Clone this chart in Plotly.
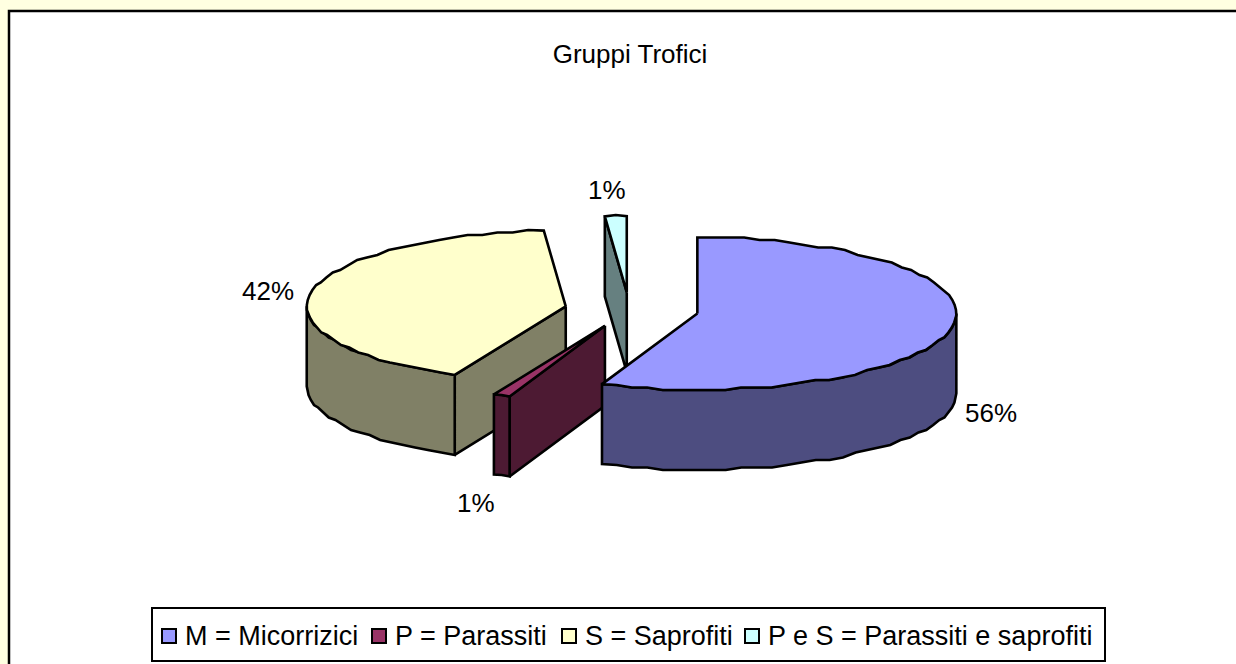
import numpy as np
import plotly.graph_objects as go

# ---- data ----
categories = ["M = Micorrizici", "P = Parassiti", "S = Saprofiti", "P e S = Parassiti e saprofiti"]
values = [56.0, 1.05, 41.6, 1.35]
top_colors = ["#9999FF", "#993366", "#FFFFCC", "#CCFFFF"]
side_colors = ["#4D4D80", "#4D1A33", "#808066", "#668080"]
title_text = "Gruppi Trofici"

# ---- geometry of the tilted, exploded pie (plot units = pixels) ----
CX, CY = 631.6, 309.8
RX, RY = 259.0, 76.0
DEPTH = 80.0
EXPLODE = 0.2584
NUDGE = {0: (0, 0), 1: (0, -2), 2: (0, 0), 3: (-2, 2)}
GRID = 2.5          # the original drawing has coarse, slightly stepped outlines
STEP = 3.5          # degrees between outline vertices
FONT = "Liberation Sans, Arial, sans-serif"
LW = 2.6

total = sum(values)
edges = np.cumsum([0.0] + values) / total * 360.0


def pt(c, deg, r=1.0):
    t = np.radians(deg)
    return c[0] + r * RX * np.sin(t), c[1] - r * RY * np.cos(t)


def arc(c, a, b, dy=0.0):
    n = max(2, int(abs(b - a) / STEP) + 2)
    th = np.radians(np.linspace(a, b, n))
    xs = c[0] + RX * np.sin(th)
    ys = c[1] - RY * np.cos(th)
    # keep end points exact, snap the others to the coarse grid
    ys[1:-1] = np.round(ys[1:-1] / GRID) * GRID
    return list(xs), list(ys + dy)


def poly(xs, ys, color):
    return go.Scatter(
        x=list(xs) + [xs[0]], y=list(ys) + [ys[0]], mode="lines", fill="toself",
        fillcolor=color, line=dict(color="black", width=LW, shape="linear"),
        hoverinfo="skip", showlegend=False,
    )


def slice_traces(i):
    a, b = edges[i], edges[i + 1]
    mid = (a + b) / 2
    c = pt((CX, CY), mid, EXPLODE)
    c = (c[0] + NUDGE[i][0], c[1] + NUDGE[i][1])
    out = []
    # radial faces that look towards the viewer
    for e, visible in ((a, 180 < a < 360), (b, 0 < b < 180)):
        if visible:
            x, y = pt(c, e)
            out.append(poly([c[0], x, x, c[0]], [c[1], y, y + DEPTH, c[1] + DEPTH], side_colors[i]))
    # rim: only the front half (90..270 degrees) can be seen
    lo, hi = max(a, 90), min(b, 270)
    if lo < hi:
        xt, yt = arc(c, lo, hi)
        xb, yb = arc(c, hi, lo, DEPTH)
        out.append(poly(xt + xb, yt + yb, side_colors[i]))
    # top face
    xa, ya = arc(c, a, b)
    out.append(poly([c[0]] + xa, [c[1]] + ya, top_colors[i]))
    return out


fig = go.Figure()
# painter's order: back piece first, the large front piece last
for idx in (3, 2, 1, 0):
    fig.add_traces(slice_traces(idx))

# percent labels come from the values
label_pos = {0: (991, 413), 1: (476, 503), 2: (268, 291), 3: (607, 190)}
annotations = [
    dict(x=label_pos[i][0], y=label_pos[i][1], text=f"{round(v / total * 100)}%", showarrow=False,
         xanchor="center", yanchor="middle", font=dict(family=FONT, size=26, color="black"))
    for i, v in enumerate(values)
]

# legend
swatch_x = [169, 379, 569, 752]
text_x = [183, 393, 583, 766]
fig.add_trace(go.Scatter(
    x=swatch_x, y=[636] * 4, mode="markers", hoverinfo="skip", showlegend=False,
    marker=dict(symbol="square", size=14, color=top_colors, line=dict(color="black", width=2)),
))
for tx, name in zip(text_x, categories):
    annotations.append(dict(x=tx, y=636, text=name, showarrow=False, xanchor="left", yanchor="middle",
                            font=dict(family=FONT, size=27, color="black")))

shapes = [
    dict(type="rect", x0=9, y0=11, x1=1300, y1=720, line=dict(color="black", width=2.5),
         fillcolor="white", layer="below"),
    dict(type="rect", x0=152, y0=608, x1=1105, y1=661, line=dict(color="black", width=2),
         fillcolor="white", layer="below"),
]

fig.update_layout(
    width=1236, height=664, margin=dict(l=0, r=0, t=0, b=0),
    paper_bgcolor="#FFFFE1", plot_bgcolor="rgba(0,0,0,0)",
    title=dict(text=title_text, x=630 / 1236, xanchor="center", xref="paper",
               y=1 - 54 / 664, yanchor="middle", yref="container",
               font=dict(family=FONT, size=26, color="black")),
    xaxis=dict(range=[0, 1236], visible=False, fixedrange=True),
    yaxis=dict(range=[664, 0], visible=False, fixedrange=True),
    shapes=shapes, annotations=annotations, showlegend=False,
)

fig.write_html("out.html", config={"displayModeBar": False},
               post_script="document.body.style.margin='0';document.body.style.overflow='hidden';")
